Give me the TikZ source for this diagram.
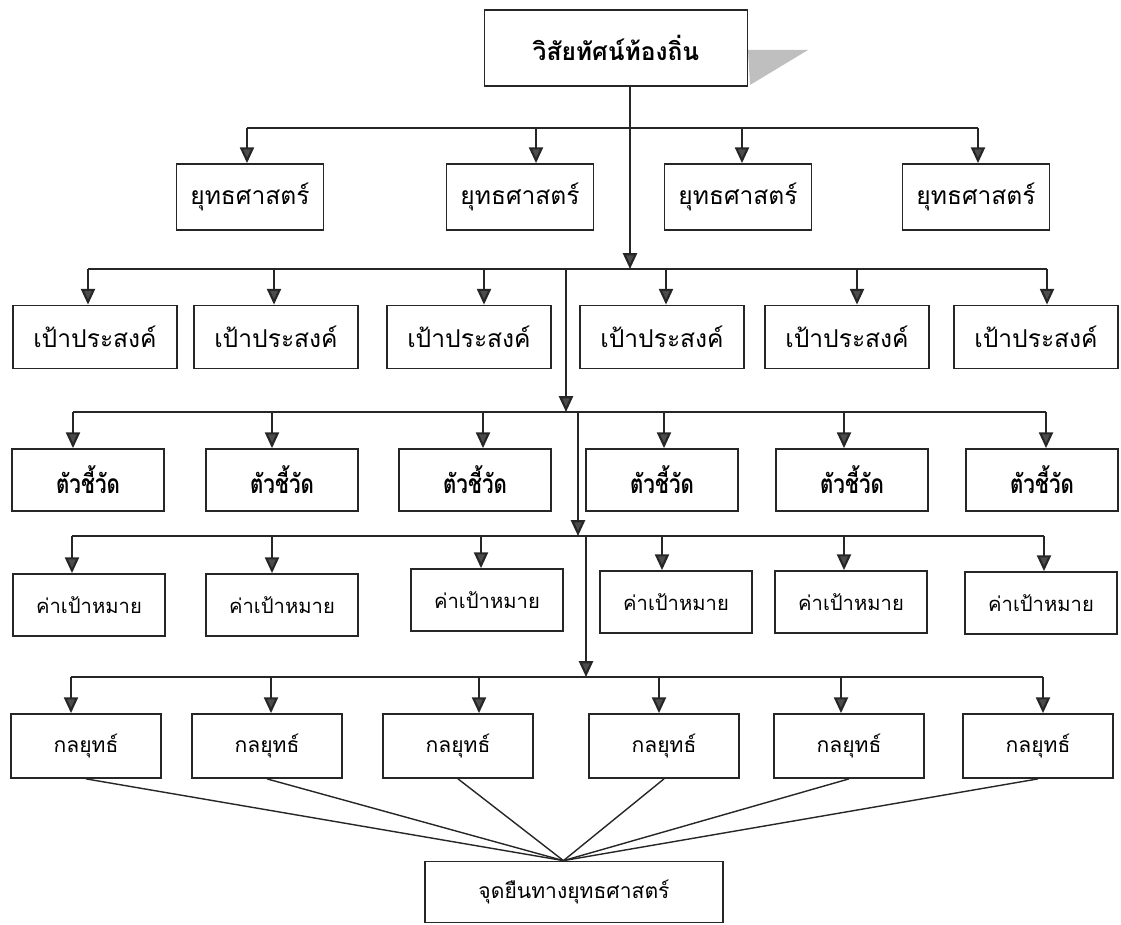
\documentclass[tikz,border=0pt]{standalone}
\usepackage{fontspec}
\usepackage{tikz}
\usetikzlibrary{arrows.meta}
\usetikzlibrary{positioning}
\usetikzlibrary{calc}
\newfontfamily\thaifont[Script=Thai]{Loma}
\newfontfamily\thaicond[Script=Thai,FakeStretch=0.78]{Loma}
\tikzset{
	box/.style={rectangle, draw=black!85, line width=1pt, inner sep=0pt, font=\thaifont},
	visionbox/.style={box, minimum width=5.26cm, minimum height=1.52cm, font=\thaifont\fontsize{14}{17}\selectfont\bfseries},
	stratbox/.style={box, minimum width=2.94cm, minimum height=1.32cm, font=\thaifont\fontsize{14}{17}\selectfont},
	goalbox/.style={box, minimum width=3.28cm, minimum height=1.26cm, font=\thaifont\fontsize{14}{17}\selectfont},
	kpibox/.style={box, minimum width=3.04cm, minimum height=1.24cm, font=\thaicond\fontsize{15}{18}\selectfont\bfseries},
	targetbox/.style={box, minimum width=3.04cm, minimum height=1.24cm, font=\thaifont\fontsize{11.5}{14}\selectfont},
	tacticbox/.style={box, minimum width=3.0cm, minimum height=1.28cm, font=\thaifont\fontsize{12}{15}\selectfont},
	standbox/.style={box, minimum width=5.96cm, minimum height=1.22cm, font=\thaifont\fontsize{12}{15}\selectfont},
}

\begin{document}
\begin{tikzpicture}[x=0.02cm, y=-0.02cm,
		bus/.style={draw=black!85, line width=1.2pt},
		arr/.style={bus, -{Triangle[length=9pt,width=8pt,fill=black!70]}},
		fan/.style={draw=black!85, line width=0.8pt}]
	
	% page size of the reference
	\useasboundingbox (0,0) rectangle (1121,925);
	
	% vision box with grey shadow
	\fill[gray!50] (748,50) -- (808,50) -- (750,85) -- cycle;
	\node[visionbox] (vision) at (616,48) {วิสัยทัศน์ท้องถิ่น};
	
	% branch points of the main line
	\coordinate (j1) at (630,269);
	\coordinate (j2) at (566,412);
	\coordinate (j3) at (578,536);
	\coordinate (j4) at (586,677);
	
	% strategies
	\foreach \n/\x/\t in {1/250/247, 2/520/536, 3/738/742, 4/976/978}
	{
		\node[stratbox] (s\n) at (\x,197) {ยุทธศาสตร์};
		\coordinate (ts\n) at (\t,128);
		\draw[arr] (ts\n) -- (ts\n |- s\n.north);
	}
	\draw[bus] (ts1) -- (ts4);
	\draw[arr] (vision.south -| j1) -- (j1);
	
	% goals
	\foreach \n/\x/\t in {1/95/88, 2/276/274, 3/469/484, 4/662/666, 5/847/857, 6/1036/1047}
	{
		\node[goalbox] (g\n) at (\x,337) {เป้าประสงค์};
		\coordinate (tg\n) at (\t,269);
		\draw[arr] (tg\n) -- (tg\n |- g\n.north);
	}
	\draw[bus] (tg1) -- (tg6);
	\draw[arr] (j1 -| j2) -- (j2);
	
	% indicators
	\foreach \n/\x/\t in {1/88/73, 2/282/272, 3/475/483, 4/662/664, 5/852/844, 6/1042/1046}
	{
		\node[kpibox] (i\n) at (\x,480) {ตัวชี้วัด};
		\coordinate (ti\n) at (\t,412);
		\draw[arr] (ti\n) -- (ti\n |- i\n.north);
	}
	\draw[bus] (ti1) -- (ti6);
	\draw[arr] (j2 -| j3) -- (j3);
	
	% target values
	\foreach \n/\x/\y/\t in {1/89/605/72, 2/282/605/272, 3/487/600/481, 4/676/602/662, 5/851/602/844, 6/1041/603/1044}
	{
		\node[targetbox] (v\n) at (\x,\y) {ค่าเป้าหมาย};
		\coordinate (tv\n) at (\t,536);
		\draw[arr] (tv\n) -- (tv\n |- v\n.north);
	}
	\draw[bus] (tv1) -- (tv6);
	\draw[arr] (j3 -| j4) -- (j4);
	
	% tactics
	\foreach \n/\x/\t in {1/86/71, 2/267/271, 3/458/479, 4/664/659, 5/849/841, 6/1038/1043}
	{
		\node[tacticbox] (k\n) at (\x,746) {กลยุทธ์};
		\coordinate (tk\n) at (\t,677);
		\draw[arr] (tk\n) -- (tk\n |- k\n.north);
	}
	\draw[bus] (tk1) -- (tk6);
	
	% strategic position, all tactics meet here
	\node[standbox] (stand) at (574,892) {จุดยืนทางยุทธศาสตร์};
	\foreach \n in {1,...,6}
		\draw[fan] (k\n.south) -- ([xshift=-6pt]stand.north);
	
\end{tikzpicture}
\end{document}
